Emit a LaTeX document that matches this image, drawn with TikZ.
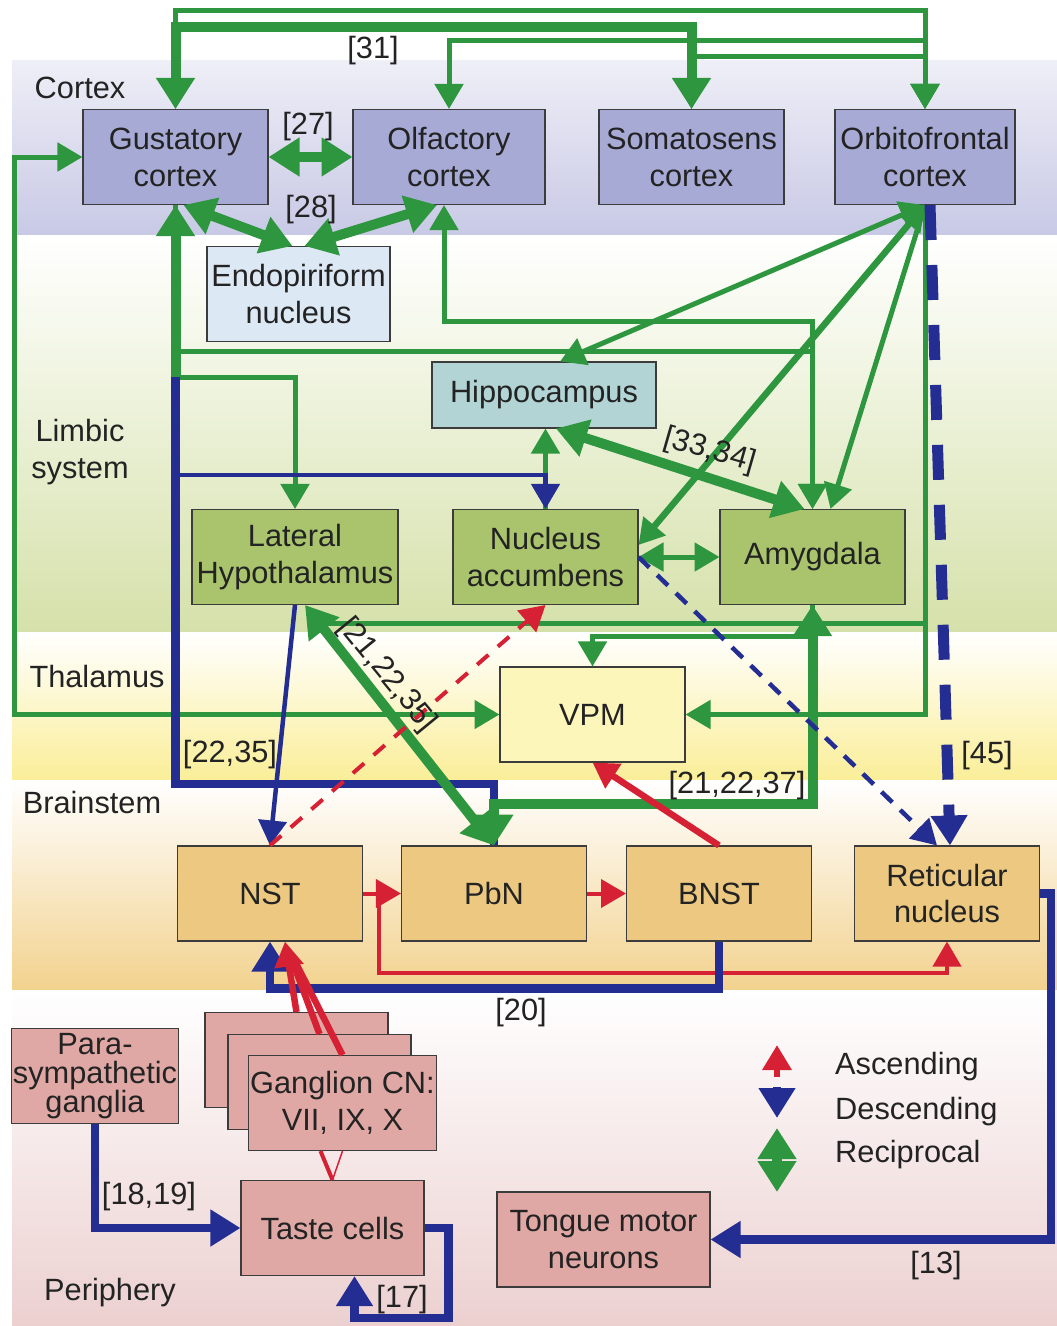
\documentclass[tikz,border=0pt]{standalone}
\usepackage{fontspec}
\setmainfont{Liberation Sans}
\usepackage{tikz}
\usetikzlibrary{arrows.meta, calc}
\definecolor{grn}{RGB}{46,150,62}
\definecolor{blu}{RGB}{36,46,146}
\definecolor{rd}{RGB}{214,32,52}
\definecolor{boxline}{RGB}{60,60,60}
\definecolor{txt}{RGB}{35,35,35}
\definecolor{cortexfill}{RGB}{168,170,214}
\definecolor{endofill}{RGB}{220,232,244}
\definecolor{hippofill}{RGB}{178,212,212}
\definecolor{limbicfill}{RGB}{170,196,110}
\definecolor{vpmfill}{RGB}{253,246,186}
\definecolor{stemfill}{RGB}{236,200,128}
\definecolor{perifill}{RGB}{224,168,164}
\definecolor{cortexband}{RGB}{200,201,229}
\definecolor{limbicband}{RGB}{213,225,170}
\definecolor{thalband}{RGB}{250,238,152}
\definecolor{stemband}{RGB}{242,210,142}
\definecolor{periband}{RGB}{236,208,208}

\tikzset{
  brainbox/.style={draw=boxline, line width=0.6pt, align=center, inner sep=1pt,
                   minimum width=3.7cm, minimum height=1.9cm, text=txt},
  cortexbox/.style={brainbox, fill=cortexfill},
  limbicbox/.style={brainbox, fill=limbicfill},
  stembox/.style={brainbox, fill=stemfill},
  peribox/.style={brainbox, fill=perifill},
  region/.style={text=txt},
  refno/.style={text=txt, inner sep=1pt},
  gthin/.style={draw=grn, line width=0.1cm},
  gmid/.style={draw=grn, line width=0.13cm},
  gthick/.style={draw=grn, line width=0.2cm, >={Triangle[length=0.62cm,width=0.74cm]}},
  bthin/.style={draw=blu, line width=0.09cm},
  bthick/.style={draw=blu, line width=0.17cm, >={Triangle[length=0.6cm,width=0.7cm]}},
  rthin/.style={draw=rd, line width=0.08cm},
  rthick/.style={draw=rd, line width=0.13cm},
}

\begin{document}
\begin{tikzpicture}[x=0.02cm, y=-0.02cm, >={Triangle[length=0.5cm,width=0.56cm]},
                    font=\fontsize{17.5}{21}\selectfont]
  \useasboundingbox (0,0) rectangle (1057,1326);

  % level bands
  \shade[top color=cortexband!30, bottom color=cortexband] (12,60) rectangle (1057,235);
  \shade[top color=white, bottom color=limbicband] (12,235) rectangle (1057,632);
  \shade[top color=white, bottom color=thalband] (12,632) rectangle (1057,780);
  \shade[top color=white, bottom color=stemband] (12,780) rectangle (1057,990);
  \shade[top color=white, bottom color=periband] (12,990) rectangle (1057,1326);

  \node[region] (lcortex) at (80,88) {Cortex};
  \node[region, align=center] (llimbic) at (80,452) {Limbic\\system};
  \node[region] (lthal) at (97,676) {Thalamus};
  \node[region] (lstem) at (92,802) {Brainstem};
  \node[region] (lperi) at (110,1293) {Periphery};

  % areas
  \node[cortexbox] (gust) at (175.5,157) {Gustatory\\cortex};
  \node[cortexbox, minimum width=3.84cm] (olf) at (449,157) {Olfactory\\cortex};
  \node[cortexbox] (soma) at (691.5,157) {Somatosens\\cortex};
  \node[cortexbox, minimum width=3.6cm] (ofc) at (925,157) {Orbitofrontal\\cortex};
  \node[brainbox, fill=endofill, minimum width=3.66cm] (endo) at (298.5,294) {Endopiriform\\nucleus};
  \node[brainbox, fill=hippofill, minimum width=4.48cm, minimum height=1.32cm] (hippo) at (544,395) {Hippocampus};
  \node[limbicbox, minimum width=4.12cm] (lh) at (295,557) {Lateral\\Hypothalamus};
  \node[limbicbox] (nacc) at (545.5,557) {Nucleus\\accumbens};
  \node[limbicbox] (amyg) at (812.5,557) {Amygdala};
  \node[brainbox, fill=vpmfill] (vpm) at (592.5,714.5) {VPM};
  \node[stembox] (nst) at (270,893.5) {NST};
  \node[stembox] (pbn) at (494,893.5) {PbN};
  \node[stembox] (bnst) at (719,893.5) {BNST};
  \node[stembox] (ret) at (947,893.5) {Reticular\\nucleus};
  \node[peribox, minimum width=3.32cm, font=\fontsize{17.5}{16.5}\selectfont] (para) at (95,1076) {Para-\\sympathetic\\ganglia};
  \node[peribox, minimum width=3.66cm] (gangA) at (296.5,1060) {};
  \node[peribox, minimum width=3.66cm] (gangB) at (319.5,1082) {};
  \node[peribox, minimum width=3.66cm] (gang) at (342.5,1103) {Ganglion CN:\\VII, IX, X};
  \node[peribox, minimum width=3.66cm] (taste) at (332.5,1228) {Taste cells};
  \node[peribox, minimum width=4.26cm] (tongue) at (603.5,1239.5) {Tongue motor\\neurons};

  % cortex to cortex
  \draw[gthin,<->] (gust.north) -- ++(0,-98) -| (ofc.north);
  \draw[gthick,<->] (gust.north) -- ++(0,-82) -| (soma.north);
  \draw[gthin,<->] (olf.north) -- ++(0,-68) -| (ofc.north);
  \draw[gthin,<->] (soma.north) -- ++(0,-52) -| (ofc.north);
  \draw[gthick,<->] (gust.east) -- (olf.west);
  \draw[gthick,<->] ($(gust.south)+(8,0)$) -- ($(endo.north)+(-6,0)$);
  \draw[gthick,<->] ($(olf.south)+(-12,0)$) -- ($(endo.north)+(6,0)$);
  \draw[gthin,<->] (gust.west) -- ++(-68,0) |- (vpm.west);

  % gustatory trunk
  \coordinate (gsplit) at ($(gust.south)+(0,172)$);
  \draw[gthick,<-] (gust.south) -- (gsplit);
  \draw[gthin,->] (gust.south) -- ++(0,146) -| (amyg.north);
  \draw[gthin,->] (gsplit) -| (lh.north);
  \draw[gthin,<->] ($(olf.south)+(-5,0)$) -- ++(0,116) -| (amyg.north);

  % orbitofrontal
  \coordinate (lhjoin) at ($(lh.south)+(22,18)$);
  \draw[gthin] (ofc.south) |- (lhjoin);
  \draw[gthin,->] (ofc.south) |- (vpm.east);
  \draw[gthin,<->] (ofc.south) -- ($(hippo.north)+(16,0)$);
  \draw[gthin,->] (ofc.south) -- ($(amyg.north)+(18,0)$);
  \draw[gmid,<->] (ofc.south) -- ($(nacc.east)+(0,-12)$);

  % limbic
  \draw[gthick,<->] ($(hippo.south)+(12,0)$) -- ($(amyg.north)+(-8,0)$);
  \draw[gthin,->] (nacc.north) -- (nacc.north |- hippo.south);
  \draw[gthin,<->] (nacc.east) -- (amyg.west);
  \draw[bthin,->] (gsplit) -- ++(0,98) -| (nacc.north);
  \draw[gthin,->] (amyg.south) -- ++(0,31) -| (vpm.north);
  \draw[bthick] (gsplit) -- ++(0,407) -| (pbn.north);
  \draw[gthick,<->] (amyg.south) -- ++(0,199) -| (pbn.north);
  \draw[gthick,<->] ($(lh.south)+(10,0)$) -- (pbn.north);
  \draw[bthin,->] (lh.south) -- (nst.north);

  % dashed projections
  \draw[rthin, dash pattern=on 0.3cm off 0.25cm, ->] (nst.north) -- (nacc.south);
  \draw[bthin, dash pattern=on 0.3cm off 0.22cm, ->] (nacc.east) -- ($(ret.north)+(-10,0)$);
  \draw[bthick, line width=0.22cm, dash pattern=on 0.7cm off 0.5cm, ->] ($(ofc.south)+(5,0)$) -- ($(ret.north)+(3,0)$);

  % brainstem
  \draw[rthick,->] (bnst.north) -- (vpm.south);
  \draw[rthin,->] (nst.east) -- (pbn.west);
  \draw[rthin,->] (pbn.east) -- (bnst.west);
  \draw[rthin,->] ($(nst.east)+(16,0)$) -- ++(0,79) -| (ret.south);
  \draw[bthick,->] (bnst.south) -- ++(0,47) -| (nst.south);

  % periphery
  \coordinate (nstin) at ($(nst.south)+(15,0)$);
  \draw[rthick,->] (gangA.north) -- (nstin);
  \draw[rthick, shorten >=0.4cm] (gangB.north) -- (nstin);
  \draw[rthick, shorten >=0.4cm] (gang.north) -- (nstin);
  \draw[rthin] (taste.north) -- ($(gang.south)+(-22,0)$);
  \draw[rd, line width=0.03cm] (taste.north) -- (gang.south);
  \draw[bthick,->] (para.south) |- (taste.west);
  \draw[bthick,->] (taste.east) -- ++(24,0) -- ++(0,90) -| ($(taste.south)+(22,0)$);
  \draw[bthick,->] (ret.east) -- ++(11,0) |- (tongue.east);

  % references
  \node[refno] (r31) at (373,51) {[31]};
  \node[refno] (r27) at (308,127) {[27]};
  \node[refno] (r28) at (311,210) {[28]};
  \node[refno, rotate=-16] (r3334) at (710,451) {[33,34]};
  \node[refno, rotate=-50.7] (r212235) at (387,675) {[21,22,35]};
  \node[refno] (r2235) at (230,755) {[22,35]};
  \node[refno] (r212237) at (737,786) {[21,22,37]};
  \node[refno] (r45) at (987,756) {[45]};
  \node[refno] (r20) at (521,1013) {[20]};
  \node[refno] (r1819) at (149,1197) {[18,19]};
  \node[refno] (r17) at (402,1300) {[17]};
  \node[refno] (r13) at (936,1266) {[13]};

  % legend
  \node[region, anchor=west] (legasc) at (829,1067) {Ascending};
  \node[region, anchor=west] (legdesc) at (829,1112) {Descending};
  \node[region, anchor=west] (legrec) at (829,1155) {Reciprocal};
  \draw[rthick,->] ($(legasc.west)+(-52,10)$) -- ($(legasc.west)+(-52,-22)$);
  \draw[bthick,->] ($(legdesc.west)+(-52,-25)$) -- ($(legdesc.west)+(-52,6)$);
  \draw[gthick,<->] ($(legrec.west)+(-52,-27)$) -- ($(legrec.west)+(-52,37)$);
\end{tikzpicture}
\end{document}
